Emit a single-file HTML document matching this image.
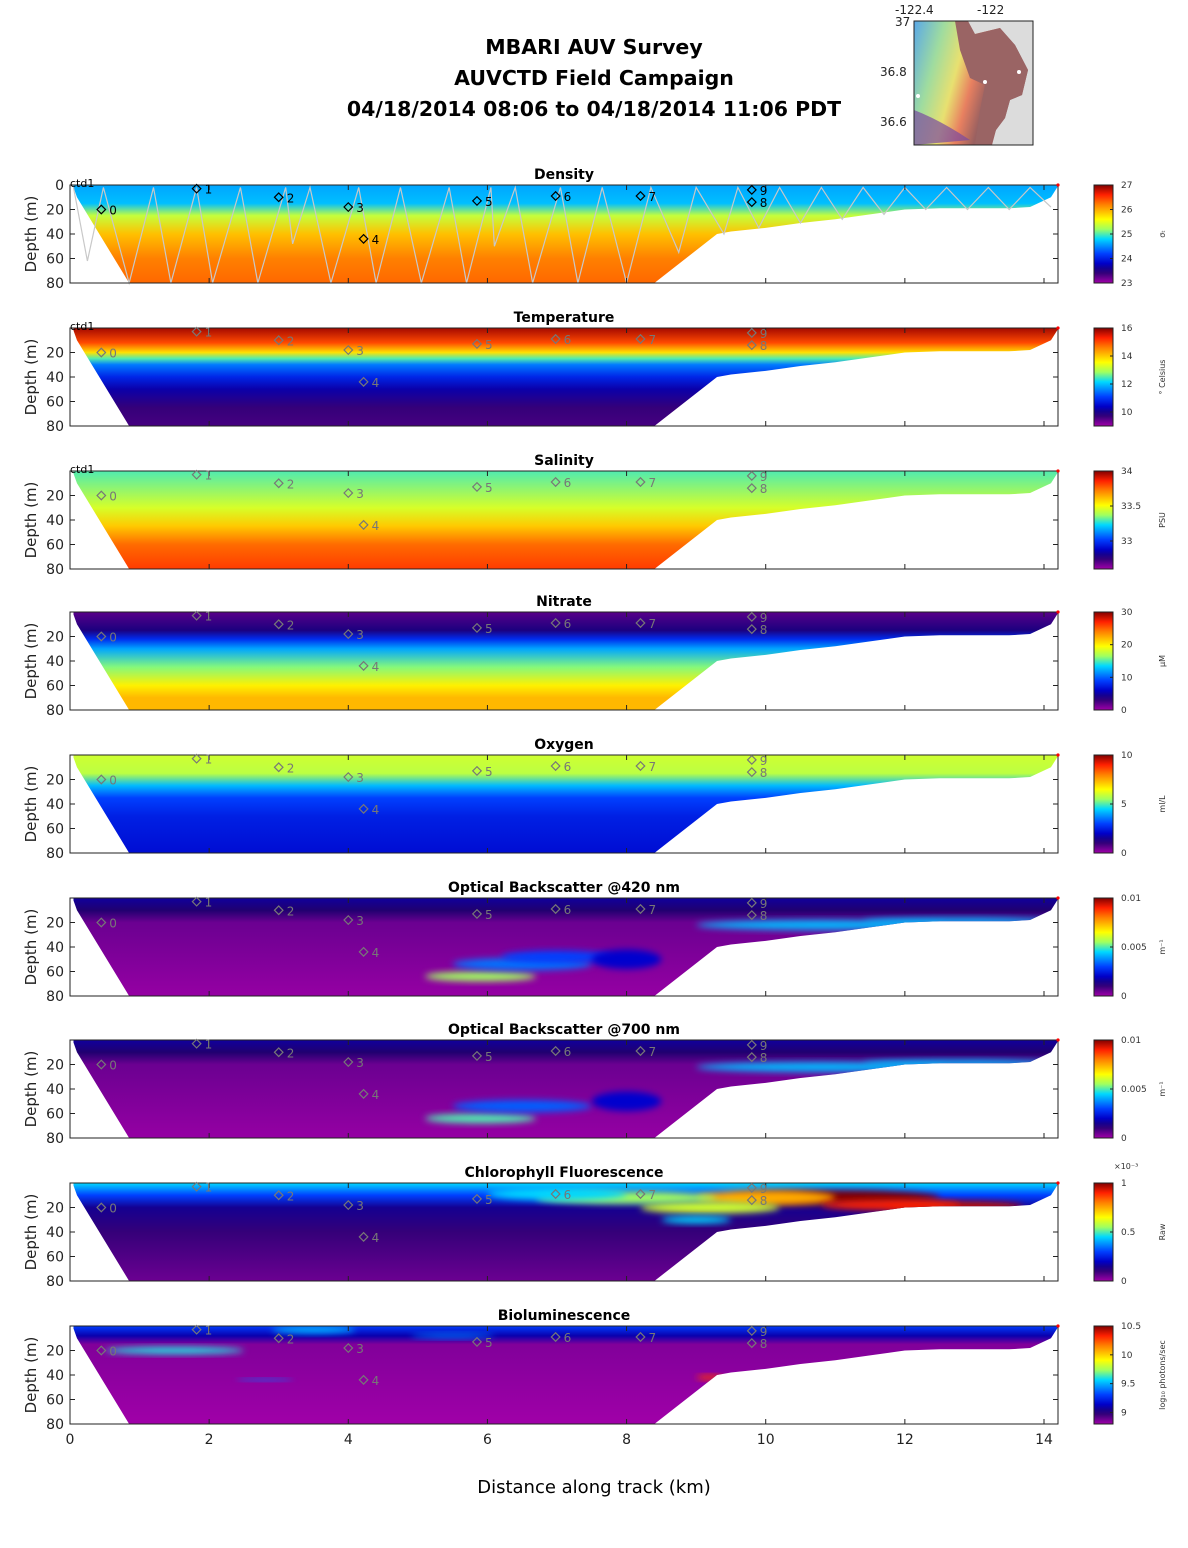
<!DOCTYPE html>
<html><head><meta charset="utf-8"><style>
html,body{margin:0;padding:0;background:#fff;}
svg{display:block;font-family:"DejaVu Sans","Liberation Sans",sans-serif;}
</style></head><body>
<svg id="fig" width="1188" height="1548" viewBox="0 0 1188 1548" xmlns="http://www.w3.org/2000/svg">
<g font-weight="bold" font-size="20.5" text-anchor="middle" fill="#000">
<text x="594" y="54">MBARI AUV Survey</text>
<text x="594" y="85">AUVCTD Field Campaign</text>
<text x="594" y="116">04/18/2014 08:06  to 04/18/2014 11:06 PDT</text>
</g>
<g>
<defs>
<linearGradient id="mapg" x1="0" y1="0" x2="1" y2="0.3">
<stop offset="0" stop-color="#5aa8e8"/><stop offset="0.25" stop-color="#9fdc9f"/><stop offset="0.45" stop-color="#e8e070"/><stop offset="0.6" stop-color="#e88060"/><stop offset="0.75" stop-color="#9a6060"/>
</linearGradient>
</defs>
<rect x="914" y="21" width="119" height="124" fill="#dcdcdc"/>
<path d="M914,21 L960,21 L975,34 L1000,28 L1015,45 L1028,70 L1022,95 L1010,100 L1005,118 L996,130 L992,145 L914,145 Z" fill="url(#mapg)"/>
<path d="M955,21 L968,21 L975,34 L1000,28 L1015,45 L1028,70 L1022,95 L1010,100 L1005,118 L996,130 L990,145 L975,145 L980,110 L985,85 L970,78 L960,50 Z" fill="#9a6464"/>
<path d="M914,110 Q940,120 970,140 L914,145 Z" fill="#7a4aa0" opacity="0.7"/>
<circle cx="1019" cy="72" r="2" fill="#fff"/><circle cx="985" cy="82" r="2" fill="#fff"/><circle cx="918" cy="96" r="2" fill="#fff"/>
<rect x="914" y="21" width="119" height="124" fill="none" stroke="#222" stroke-width="1"/>
<g font-size="12" fill="#222">
<text x="895" y="14">-122.4</text><text x="977" y="14">-122</text>
<text x="895" y="26">37</text><text x="880" y="76">36.8</text><text x="880" y="126">36.6</text>
</g>
</g>
<g id="panels"></g>
<text x="594" y="1493" font-size="18" text-anchor="middle">Distance along track (km)</text>
</svg>
<script>
// ---- data ----
const bottomDist = [0.05,0.1,0.85,8.4,9.3,9.5,10,10.5,11,11.5,12,12.5,13,13.5,13.8,14.1,14.2];
const bottomDepth = [2,10,80,80,40,38,35,31,28,24,20,19,19,19,18,10,1];
const panelTitles = ["Density","Temperature","Salinity","Nitrate","Oxygen","Optical Backscatter @420 nm","Optical Backscatter @700 nm","Chlorophyll Fluorescence","Bioluminescence"];
const panelUnits = ["\u03C3\u209C","\u00B0 Celsius","PSU","\u03BCM","ml/L","m\u207B\u00B9","m\u207B\u00B9","Raw","log\u2081\u2080 photons/sec"];
const cbMin = [23,9,32.6,0,0,0,0,0,8.8];
const cbMax = [27,16,34,30,10,0.01,0.01,1,10.5];
const cbTicks = [[23,24,25,26,27],[10,12,14,16],[33,33.5,34],[0,10,20,30],[0,5,10],[0,0.005,0.01],[0,0.005,0.01],[0,0.5,1],[9,9.5,10,10.5]];
const profDepth = [[0,15,25,40,50,60,80],[0,12,20,25,30,40,50,65,80],[0,30,45,60,80],[0,15,22,30,45,60,70,80],[0,15,25,35,50,80],[0,10,20,80],[0,10,20,80],[0,10,20,40,80],[0,8,15,80]];
const profValue = [[24.6,24.7,25.35,25.9,26.05,26.2,26.3],[15.8,15.0,13.8,12.5,11.5,10.8,10.2,9.7,9.6],[33.3,33.45,33.6,33.75,33.82],[2,4,8,12,16,20,22,22],[6.0,5.8,4.2,3.0,2.5,2.2],[0.0016,0.0012,0.0005,0.0001],[0.0016,0.0012,0.0005,0.0001],[0.45,0.3,0.15,0.1,0.05],[9.3,9.1,8.85,8.8]];
// blobs: panel index, distance km, depth m, half-width km, half-height m, value
const blobPanel = [5,5,5,5,5,5, 6,6,6,6,6, 7,7,7,7,7,7,7,7, 8,8,8,8,8];
const blobDist  = [5.9,6.5,7.0,8.0,10.8,12.8, 5.9,6.5,8.0,10.8,12.8, 11.0,12.7,10.0,9.2,8.0,7.0,9.0,11.8, 1.5,3.5,5.5,9.2,2.8];
const blobDepth = [64,54,48,50,22,19, 64,54,50,22,19, 12,19,12,20,12,9,30,18, 20,3,8,42,44];
const blobRx    = [0.8,1.0,0.8,0.5,1.8,1.4, 0.8,1.0,0.5,1.8,1.4, 1.5,1.0,1.0,1.0,1.3,1.0,0.5,1.0, 1.0,0.6,0.6,0.2,0.4];
const blobRy    = [4,5,5,8,4,3, 4,5,8,4,3, 6,4,6,5,5,5,3,4, 3,3,2,2,1];
const blobVal   = [0.0055,0.0035,0.003,0.0021,0.0042,0.0042, 0.005,0.0033,0.0021,0.0042,0.0042, 1.0,0.95,0.75,0.6,0.55,0.45,0.45,0.9, 9.6,9.5,9.4,10.3,9.4];
const wpName  = ["0","1","2","3","4","5","6","7","8","9"];
const wpDist  = [0.45,1.82,3.0,4.0,4.22,5.85,6.98,8.2,9.8,9.8];
const wpDepth = [20,3,10,18,44,13,9,9,14,4];
const yoDist  = [0.05,0.25,0.48,0.85,1.2,1.45,1.82,2.05,2.45,2.7,3.1,3.2,3.45,3.75,4.15,4.4,4.75,5.05,5.45,5.7,6.05,6.1,6.4,6.65,7.05,7.3,7.65,8.0,8.35,8.75,9.0,9.4,9.6,9.9,10.2,10.5,10.8,11.1,11.4,11.7,12.0,12.3,12.6,12.9,13.2,13.5,13.8,14.1];
const yoDepth = [2,62,2,80,2,80,2,80,2,80,2,48,2,80,2,80,2,80,2,80,2,50,2,80,2,80,2,80,2,55,2,40,2,35,2,31,2,28,2,24,2,20,2,20,2,20,2,18];
const xTicks = [0,2,4,6,8,10,12,14];
const yTicks = [0,20,40,60,80];

// ---- layout ----
const NS="http://www.w3.org/2000/svg";
const X0=70, XR=1058, PXKM=(1044-70)/14, PH=98;
const panelTop=[185,328,471,612,755,898,1040,1183,1326];
const sx=d=>X0+d*PXKM;
const cmapStops=[[0,'#a000a8'],[0.12,'#200070'],[0.2,'#0000c8'],[0.3,'#0040ff'],[0.45,'#00d8ff'],[0.55,'#a0ff60'],[0.65,'#ffff00'],[0.8,'#ff8000'],[0.9,'#ff2000'],[1,'#800000']];
function hex(c){return [1,3,5].map(i=>parseInt(c.substr(i,2),16));}
function cmap(t){t=Math.max(0,Math.min(1,t));for(let i=1;i<cmapStops.length;i++){if(t<=cmapStops[i][0]){const a=cmapStops[i-1],b=cmapStops[i];const f=(t-a[0])/(b[0]-a[0]);const ca=hex(a[1]),cb=hex(b[1]);return 'rgb('+ca.map((v,k)=>Math.round(v+(cb[k]-v)*f)).join(',')+')';}}return cmapStops[cmapStops.length-1][1];}
function mk(tag,attrs,parent){const e=document.createElementNS(NS,tag);for(const k in attrs)e.setAttribute(k,attrs[k]);if(parent)parent.appendChild(e);return e;}
const root=document.getElementById('panels');
const defs=mk('defs',{},root);
const cbGrad=mk('linearGradient',{id:'cbg',x1:0,y1:1,x2:0,y2:0},defs);
for(let i=0;i<=20;i++)mk('stop',{offset:i/20,'stop-color':cmap(i/20)},cbGrad);

panelTitles.forEach((title,p)=>{
  const top=panelTop[p], sy=z=>top+z/80*PH;
  const norm=v=>(v-cbMin[p])/(cbMax[p]-cbMin[p]);
  const g=mk('g',{},root);
  
  
  const cp=mk('clipPath',{id:'clip'+p},defs);
  let pts=sx(bottomDist[0])+','+sy(0.3)+' ';
  bottomDist.forEach((d,i)=>{pts+=sx(d)+','+sy(bottomDepth[i])+' ';});
  pts+=sx(bottomDist[bottomDist.length-1])+','+sy(0.3);
  mk('polygon',{points:pts},cp);
  const lg=mk('linearGradient',{id:'pg'+p,gradientUnits:'userSpaceOnUse',x1:0,y1:top,x2:0,y2:top+PH},defs);
  profDepth[p].forEach((z,i)=>mk('stop',{offset:z/80,'stop-color':cmap(norm(profValue[p][i]))},lg));
  const field=mk('g',{'clip-path':'url(#clip'+p+')'},g);
  
  
  mk('rect',{x:X0,y:top,width:XR-X0,height:PH,fill:'url(#pg'+p+')'},field);
  const bf=mk('filter',{id:'bf'+p,x:'-50%',y:'-50%',width:'200%',height:'200%'},defs);
  mk('feGaussianBlur',{stdDeviation:3.5},bf);
  blobPanel.forEach((bp,i)=>{ if(bp!==p)return;
    const e=mk('ellipse',{cx:sx(blobDist[i]),cy:sy(blobDepth[i]),rx:blobRx[i]*PXKM,ry:blobRy[i]/80*PH,fill:cmap(norm(blobVal[i])),filter:'url(#bf'+p+')'},field);
    
    
  });
  if(p===0){
    let yp='';yoDist.forEach((d,i)=>{yp+=sx(d)+','+sy(yoDepth[i])+' ';});
    const pl=mk('polyline',{points:yp,fill:'none',stroke:'#c8c8c8','stroke-width':1.2},g);
    
    
  }
  const fr=mk('rect',{x:X0,y:top,width:XR-X0,height:PH,fill:'none',stroke:'#222','stroke-width':1},g);
  
  
  xTicks.forEach(t=>{mk('line',{x1:sx(t),y1:top,x2:sx(t),y2:top+5,stroke:'#222'},g);mk('line',{x1:sx(t),y1:top+PH,x2:sx(t),y2:top+PH-5,stroke:'#222'},g);
    if(p===8){const tx=mk('text',{x:sx(t),y:top+PH+20,'font-size':14,'text-anchor':'middle',fill:'#222'},g);tx.textContent=t;
      }});
  yTicks.forEach(t=>{mk('line',{x1:X0,y1:sy(t),x2:X0+5,y2:sy(t),stroke:'#222'},g);mk('line',{x1:XR,y1:sy(t),x2:XR-5,y2:sy(t),stroke:'#222'},g);
    if(t>0||p===0){const tx=mk('text',{x:X0-6,y:sy(t)+5,'font-size':14,'text-anchor':'end',fill:'#222'},g);tx.textContent=t;
      }});
  const yl=mk('text',{x:0,y:0,'font-size':15,'text-anchor':'middle',fill:'#222',transform:'translate(36,'+(top+PH/2)+') rotate(-90)'},g);
  yl.textContent='Depth (m)';
  const tt=mk('text',{x:564,y:top-6,'font-size':14,'font-weight':'bold','text-anchor':'middle',fill:'#000'},g);
  tt.textContent=title;
  if(p<3){const c=mk('text',{x:X0,y:top+2,'font-size':11,fill:'#000'},g);c.textContent='ctd1';}
  mk('circle',{cx:XR,cy:top,r:1.6,fill:'#f00'},g);
  const wc=p===0?'#000':'#777';
  wpName.forEach((n,i)=>{
    const wx=sx(wpDist[i]),wy=sy(wpDepth[i]);
    const m=mk('rect',{x:wx-3,y:wy-3,width:6,height:6,fill:'none',stroke:wc,'stroke-width':1.2,transform:'rotate(45 '+wx+' '+wy+')'},g);
    
    const l=mk('text',{x:wx+8,y:wy+5,'font-size':12,fill:wc},g);l.textContent=n;
    
  });
  const cb=mk('g',{},g);
  mk('rect',{x:1094,y:top,width:19,height:PH,fill:'url(#cbg)',stroke:'#222','stroke-width':1},cb);
  cbTicks[p].forEach(t=>{const y=top+PH-norm(t)*PH;mk('line',{x1:1113,y1:y,x2:1110,y2:y,stroke:'#222'},cb);
    const tx=mk('text',{x:1121,y:y+3,'font-size':9,fill:'#333'},cb);tx.textContent=t;});
  if(p===7){const e=mk('text',{x:1114,y:top-14,'font-size':8,fill:'#333'},cb);e.textContent='\u00D710\u207B\u00B3';}
  const u=mk('text',{x:0,y:0,'font-size':8,'text-anchor':'middle',fill:'#333',transform:'translate(1165,'+(top+PH/2)+') rotate(-90)'},cb);u.textContent=panelUnits[p];
});
</script>
</body></html>
